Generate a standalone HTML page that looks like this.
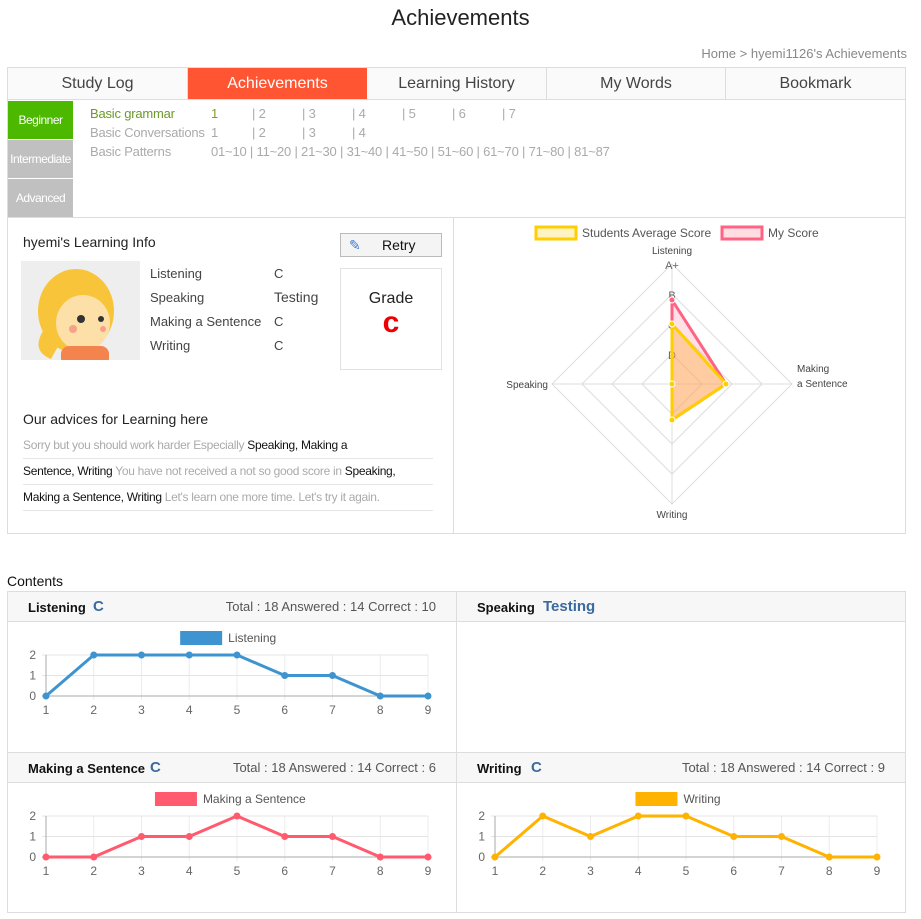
<!DOCTYPE html>
<html><head><meta charset="utf-8">
<style>
body{margin:0;width:921px;height:919px;background:#fff;font-family:"Liberation Sans",sans-serif;position:relative;overflow:hidden;color:#333}
.a{position:absolute}
.tab{position:absolute;top:68px;height:31px;line-height:31px;text-align:center;font-size:16px;color:#444;background:#fafafa;border-right:1px solid #ddd;box-sizing:border-box}
.lvl{position:absolute;left:8px;width:65px;height:38px;line-height:38px;text-align:center;color:#fff;font-size:12px;letter-spacing:-0.5px}
.row{position:absolute;font-size:13px;color:#aaa;white-space:pre;letter-spacing:-0.2px}
.sk{position:absolute;font-size:13px;color:#444}
.ph{position:absolute;height:30px;background:#f7f7f7;border-bottom:1px solid #ddd;box-sizing:border-box}
.ph b{position:absolute;top:8px;font-size:13px;color:#111}
.ph i{position:absolute;top:6px;font-style:normal;font-weight:bold;font-size:15px;color:#3a6a9e}
.ph span{position:absolute;top:7px;right:20px;font-size:13px;color:#555}
</style></head><body>
<div class="a" style="left:0;width:921px;top:5px;text-align:center;font-size:22px;color:#222">Achievements</div>
<div class="a" style="right:14px;top:46px;font-size:13px;color:#888">Home &gt; hyemi1126's Achievements</div>
<div class="a" style="left:7px;top:67px;width:899px;height:33px;border:1px solid #ddd;box-sizing:border-box"></div>
<div class="tab" style="left:8px;width:180px">Study Log</div>
<div class="tab" style="left:188px;width:179px;background:#ff5533;color:#fff;border:none">Achievements</div>
<div class="tab" style="left:367px;width:180px">Learning History</div>
<div class="tab" style="left:547px;width:179px">My Words</div>
<div class="tab" style="left:726px;width:179px;border:none">Bookmark</div>
<div class="a" style="left:7px;top:99px;width:899px;height:119px;border:1px solid #ddd;border-top:none;box-sizing:border-box"></div>
<div class="lvl" style="top:101px;background:#4cb800">Beginner</div>
<div class="lvl" style="top:140px;background:#c0c0c0">Intermediate</div>
<div class="lvl" style="top:179px;background:#c0c0c0">Advanced</div>
<div class="row" style="left:90px;top:106px"><span style="color:#6a9a2a">Basic grammar</span><span class="a" style="left:121px;color:#8a9a2a">1</span><span class="a" style="left:162px">| 2</span><span class="a" style="left:212px">| 3</span><span class="a" style="left:262px">| 4</span><span class="a" style="left:312px">| 5</span><span class="a" style="left:362px">| 6</span><span class="a" style="left:412px">| 7</span></div>
<div class="row" style="left:90px;top:125px">Basic Conversations<span class="a" style="left:121px">1</span><span class="a" style="left:162px">| 2</span><span class="a" style="left:212px">| 3</span><span class="a" style="left:262px">| 4</span></div>
<div class="row" style="left:90px;top:144px">Basic Patterns<span class="a" style="left:121px">01~10 | 11~20 | 21~30 | 31~40 | 41~50 | 51~60 | 61~70 | 71~80 | 81~87</span></div>

<div class="a" style="left:7px;top:217px;width:899px;height:317px;border:1px solid #ddd;border-top:none;box-sizing:border-box"></div>
<div class="a" style="left:453px;top:217px;width:1px;height:316px;background:#ddd"></div>
<div class="a" style="left:23px;top:234px;font-size:14px;color:#222">hyemi's Learning Info</div>
<div class="a" style="left:21px;top:261px;width:119px;height:99px;background:#eee;overflow:hidden">
<svg width="119" height="99"><ellipse cx="55" cy="50" rx="38" ry="42" fill="#f8c53a"/><ellipse cx="62" cy="62" rx="27" ry="28" fill="#fde0a8"/><rect x="40" y="85" width="48" height="20" rx="8" fill="#f4844e"/><circle cx="60" cy="58" r="4" fill="#333"/><circle cx="80" cy="58" r="3" fill="#333"/><circle cx="52" cy="68" r="4" fill="#f9a08a"/><circle cx="82" cy="68" r="3" fill="#f9a08a"/><path d="M22 70 Q10 90 30 98 L40 80Z" fill="#f8c53a"/></svg></div>
<div class="sk" style="left:150px;top:266px">Listening</div><div class="sk" style="left:274px;top:266px">C</div>
<div class="sk" style="left:150px;top:290px">Speaking</div><div class="sk" style="left:274px;top:289px;font-size:14px">Testing</div>
<div class="sk" style="left:150px;top:314px">Making a Sentence</div><div class="sk" style="left:274px;top:314px">C</div>
<div class="sk" style="left:150px;top:338px">Writing</div><div class="sk" style="left:274px;top:338px">C</div>
<div class="a" style="left:340px;top:233px;width:102px;height:24px;border:1px solid #bbb;background:#f4f4f4;box-sizing:border-box;font-size:14px;color:#111"><span class="a" style="left:8px;top:3px;color:#3a7ad8">✎</span><span class="a" style="left:41px;top:3px">Retry</span></div>
<div class="a" style="left:340px;top:268px;width:102px;height:102px;border:1px solid #e2e2e2;box-sizing:border-box;text-align:center"><div style="margin-top:21px;font-size:16px;color:#222">Grade</div><div style="font-size:30px;font-weight:bold;color:#e00;line-height:30px">c</div></div>
<div class="a" style="left:23px;top:411px;font-size:14px;color:#222">Our advices for Learning here</div>
<div class="a" style="left:23px;top:433px;width:410px;font-size:12px;letter-spacing:-0.3px;color:#aaa">
<div style="height:25px;line-height:25px;border-bottom:1px solid #e5e5e5">Sorry but you should work harder Especially <span style="color:#111">Speaking, Making a</span></div>
<div style="height:25px;line-height:25px;border-bottom:1px solid #e5e5e5"><span style="color:#111">Sentence, Writing</span> You have not received a not so good score in <span style="color:#111">Speaking,</span></div>
<div style="height:25px;line-height:25px;border-bottom:1px solid #e5e5e5"><span style="color:#111">Making a Sentence, Writing</span> Let's learn one more time. Let's try it again.</div></div>

<svg class="a" id="radar" style="left:454px;top:218px" width="450" height="314"></svg>

<div class="a" style="left:7px;top:573px;font-size:14px;color:#111">Contents</div>
<div class="a" style="left:7px;top:591px;width:899px;height:322px;border:1px solid #ddd;box-sizing:border-box"></div>
<div class="a" style="left:456px;top:592px;width:1px;height:320px;background:#ddd"></div>
<div class="ph" style="left:8px;top:592px;width:448px"><b style="left:20px">Listening</b><i style="left:85px">C</i><span>Total : 18 Answered : 14 Correct : 10</span></div>
<div class="ph" style="left:457px;top:592px;width:448px"><b style="left:20px">Speaking</b><i style="left:86px">Testing</i></div>
<div class="a" style="left:8px;top:752px;width:897px;height:1px;background:#ddd"></div>
<div class="ph" style="left:8px;top:753px;width:448px"><b style="left:20px">Making a Sentence</b><i style="left:142px">C</i><span>Total : 18 Answered : 14 Correct : 6</span></div>
<div class="ph" style="left:457px;top:753px;width:448px"><b style="left:20px">Writing</b><i style="left:74px">C</i><span>Total : 18 Answered : 14 Correct : 9</span></div>
<svg class="a" id="c1" style="left:8px;top:623px" width="448" height="128"></svg>
<svg class="a" id="c2" style="left:8px;top:784px" width="448" height="128"></svg>
<svg class="a" id="c3" style="left:457px;top:784px" width="448" height="128"></svg>
<script>
const radarAxes=["Listening","Making a Sentence","Writing","Speaking"];
const radarTicks=["D","C","B","A+"];
const avgScore=[2,1.8,1.2,0];
const myScore=[2.8,1.8,1.2,0];
const xCats=[1,2,3,4,5,6,7,8,9];
const listeningVals=[0,2,2,2,2,1,1,0,0];
const makingVals=[0,0,1,1,2,1,1,0,0];
const writingVals=[0,2,1,2,2,1,1,0,0];
const yTicks=[0,1,2];
const NS="http://www.w3.org/2000/svg";
function mk(p,t,a){const e=document.createElementNS(NS,t);for(const k in a)e.setAttribute(k,a[k]);p.appendChild(e);return e;}
(function(){
const s=document.getElementById('radar');const cx=218,cy=166,R=120,max=4;
const ang=[-Math.PI/2,0,Math.PI/2,Math.PI];
function pt(i,v){const r=v/max*R;return [cx+r*Math.cos(ang[i]),cy+r*Math.sin(ang[i])];}
for(let t=1;t<=max;t++){const g=mk(s,'polygon',{points:ang.map((a,i)=>pt(i,t).join(',')).join(' '),fill:'none',stroke:'#ddd','stroke-width':1});}
ang.forEach((a,i)=>{const p=pt(i,max);const l=mk(s,'line',{x1:cx,y1:cy,x2:p[0],y2:p[1],stroke:'#ddd'});});
radarTicks.forEach((t,k)=>{const p=pt(0,k+1);const e=mk(s,'text',{x:cx,y:p[1]+5,'text-anchor':'middle','font-size':11,fill:'#666'});e.textContent=t;});
function series(vals,stroke,fill,name){const pts=vals.map((v,i)=>pt(i,v));const g=mk(s,'polygon',{points:pts.map(p=>p.join(',')).join(' '),fill:fill,stroke:stroke,'stroke-width':3});pts.forEach(p=>{const c=mk(s,'circle',{cx:p[0],cy:p[1],r:3,fill:stroke,stroke:'#fff','stroke-width':1});});}
series(myScore,'#ff6384','rgba(255,99,132,0.2)','my-score-area');
series(avgScore,'#ffce00','rgba(255,180,80,0.45)','average-score-area');
const lp=[[cx,36,'middle',[radarAxes[0]]],[cx+125,154,'start',['Making','a Sentence']],[cx,300,'middle',[radarAxes[2]]],[cx-124,170,'end',[radarAxes[3]]]];
lp.forEach(l=>{l[3].forEach((t,j)=>{const e=mk(s,'text',{x:l[0],y:l[1]+j*15,'text-anchor':l[2],'font-size':10,fill:'#444'});e.textContent=t;});});
const lg=[[82,'#ffce00','#fff3c4','Students Average Score'],[268,'#ff6384','#ffdde3','My Score']];
lg.forEach(l=>{const r=mk(s,'rect',{x:l[0],y:9,width:40,height:12,fill:l[2],stroke:l[1],'stroke-width':3});const t=mk(s,'text',{x:l[0]+46,y:19,'font-size':12,fill:'#555'});t.textContent=l[3];});
})();
function line(id,vals,color,label){
const s=document.getElementById(id);const x0=38,x1=420,y0=73,yTop=32;
const X=i=>x0+(x1-x0)*i/(xCats.length-1);const Y=v=>y0-(y0-yTop)*v/yTicks[yTicks.length-1];
xCats.forEach((c,i)=>{const l=mk(s,'line',{x1:X(i),x2:X(i),y1:yTop,y2:y0+4,stroke:'#ececec'});const t=mk(s,'text',{x:X(i),y:y0+18,'text-anchor':'middle','font-size':12,fill:'#666'});t.textContent=c;});
yTicks.forEach(v=>{const l=mk(s,'line',{x1:x0-4,x2:x1,y1:Y(v),y2:Y(v),stroke:v===0?'#aaa':'#e4e4e4'});const t=mk(s,'text',{x:x0-10,y:Y(v)+4,'text-anchor':'end','font-size':12,fill:'#666'});t.textContent=v;});
const a=mk(s,'line',{x1:x0,x2:x0,y1:yTop,y2:y0,stroke:'#aaa'});
const p=mk(s,'polyline',{points:vals.map((v,i)=>X(i)+','+Y(v)).join(' '),fill:'none',stroke:color,'stroke-width':3});
vals.forEach((v,i)=>{const c=mk(s,'circle',{cx:X(i),cy:Y(v),r:3.5,fill:color});});
const tw=label.length*6.3;const lx=224-(42+5+tw)/2;
const r=mk(s,'rect',{x:lx,y:8,width:42,height:14,fill:color});
const t=mk(s,'text',{x:lx+48,y:19,'font-size':12,fill:'#555'});t.textContent=label;
}
line('c1',listeningVals,'#3d94d0','Listening');
line('c2',makingVals,'#ff5a6e','Making a Sentence');
line('c3',writingVals,'#ffb300','Writing');
</script>
</body></html>
